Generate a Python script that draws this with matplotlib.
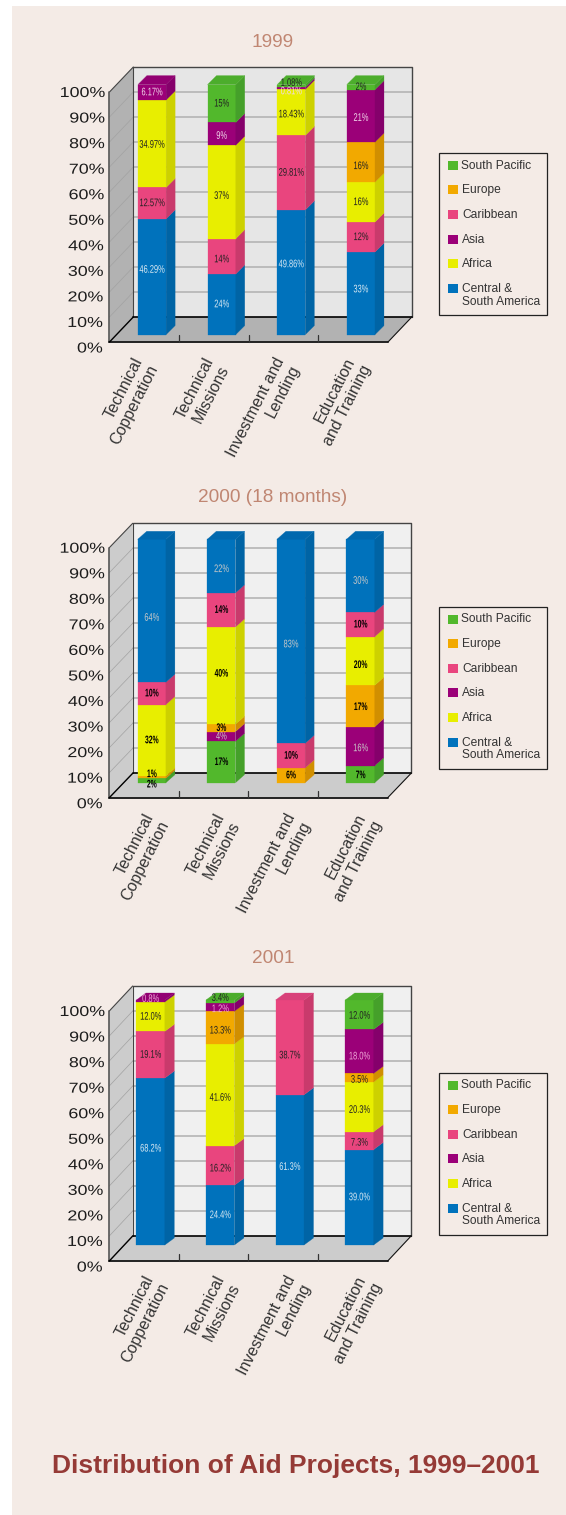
import matplotlib
matplotlib.use("Agg")
import matplotlib.pyplot as plt
from matplotlib.patches import Polygon, Rectangle
from matplotlib.patheffects import AbstractPathEffect
from matplotlib.transforms import Affine2D

# ---- data ----
categories = ["Technical\nCopperation", "Technical\nMissions", "Investment and\nLending", "Education\nand Training"]
y_ticks = [0, 10, 20, 30, 40, 50, 60, 70, 80, 90, 100]
legend_order = ["South Pacific", "Europe", "Caribbean", "Asia", "Africa", "Central &\nSouth America"]

central_1999 = [46.29, 24, 49.86, 33]
caribbean_1999 = [12.57, 14, 29.81, 12]
africa_1999 = [34.97, 37, 18.43, 16]
europe_1999 = [0, 0, 0, 16]
asia_1999 = [6.17, 9, 0.81, 21]
pacific_1999 = [0, 15, 1.08, 2]

pacific_2000 = [2, 17, 0, 7]
asia_2000 = [0, 4, 0, 16]
europe_2000 = [1, 3, 6, 17]
africa_2000 = [32, 40, 0, 20]
caribbean_2000 = [10, 14, 10, 10]
central_2000 = [64, 22, 83, 30]

central_2001 = [68.2, 24.4, 61.3, 39.0]
caribbean_2001 = [19.1, 16.2, 38.7, 7.3]
africa_2001 = [12.0, 41.6, 0, 20.3]
europe_2001 = [0, 13.3, 0, 3.5]
asia_2001 = [0.8, 3.4, 0, 18.0]
pacific_2001 = [0, 1.2, 0, 12.0]

# ---- styles ----
FRONT = {"C": "#0072bc", "Car": "#e9457e", "Af": "#e8ee00", "Eu": "#f2a900", "As": "#9b0078", "SP": "#52b82c"}
SIDE = {"C": "#0064a5", "Car": "#c93a6c", "Af": "#cdd100", "Eu": "#d18f00", "As": "#85006b", "SP": "#45a02a"}
TOP = {"C": "#0068ae", "Car": "#d8417a", "Af": "#dbe000", "Eu": "#e09c00", "As": "#920072", "SP": "#4cad2c"}
LEG_KEYS = ["SP", "Eu", "Car", "As", "Af", "C"]
BG = "#f4ebe6"
TXT = "#333333"
W, H = 566, 1515
DPI = 100
SANS = "Liberation Sans"


class XScale(AbstractPathEffect):
    """Stretch a text's glyphs horizontally about a fraction of its width."""

    def __init__(self, sx, anchor=0.5):
        super().__init__()
        self.sx, self.anchor = sx, anchor

    def draw_path(self, renderer, gc, tpath, affine, rgbFace=None):
        ext = tpath.get_extents()
        c = ext.x0 + self.anchor * (ext.x1 - ext.x0)
        a = Affine2D().translate(-c, 0).scale(self.sx, 1).translate(c, 0) + affine
        renderer.draw_path(gc, tpath, a, rgbFace)


def pt(px):
    return px * 72 / DPI


fig = plt.figure(figsize=(W / DPI, H / DPI), dpi=DPI, facecolor="white")
ov = fig.add_axes([0, 0, 1, 1], zorder=0)
ov.set_xlim(0, W)
ov.set_ylim(H, 0)
ov.axis("off")
ov.add_patch(Rectangle((12, 6), W - 12, H - 6, fc=BG, ec="none"))


def chart(title, title_y, stack, frame, bars, nudges, overrides, decimals, wall, side, bold, light, dark, leg_top, lab_right, lab_top):
    fl, fr, bl, br, top, back, floor = frame
    step = (fr - fl) / 4
    ppp = 2.5
    ax = fig.add_axes([fl / W, 1 - floor / H, (br - fl) / W, (floor - top) / H], zorder=1)
    DX = (bl - fl) / step
    DY = (floor - back) / ppp
    ax.set_xlim(0, (br - fl) / step)
    ax.set_ylim(0, (floor - top) / ppp)
    ax.axis("off")

    def poly(pts, fc, ec="none", lw=0, z=1):
        ax.add_patch(Polygon(pts, closed=True, fc=fc, ec=ec, lw=lw, zorder=z, clip_on=False))

    def line(xs, ys, c, lw, z=2):
        ax.plot(xs, ys, color=c, lw=lw, zorder=z, clip_on=False, solid_capstyle="round")

    # walls and floor
    poly([(DX, DY), (4 + DX, DY), (4 + DX, DY + 100), (DX, DY + 100)], wall)
    poly([(0, 0), (DX, DY), (DX, DY + 100), (0, 100)], side)
    poly([(0, 0), (4, 0), (4 + DX, DY), (DX, DY)], side)
    for v in y_ticks[1:-1] + [0]:
        if v:
            line([DX, 4 + DX], [DY + v, DY + v], "#b4b4b4", 1.2)
        line([0, DX], [v, DY + v], "#a2a2a2", 0.5)
    # frame
    line([DX, 4 + DX, 4 + DX], [DY + 100, DY + 100, DY], "#444444", 1.0, 3)
    line([0, DX], [100, DY + 100], "#444444", 0.8, 3)
    line([DX, DX], [DY, DY + 100], "#444444", 0.8, 3)
    line([0, 0], [0, 100], "#555555", 1.2, 3)
    line([DX, 4 + DX], [DY, DY], "#000000", 1.2, 3)
    line([0, 4], [0, 0], "#222222", 1.4, 3)
    line([0, DX], [0, DY], "#000000", 1.0, 3)
    line([4, 4 + DX], [0, DY], "#111111", 0.8, 3)
    for i in range(1, 4):
        line([i, i], [0, 7 / ppp], "#333333", 0.9, 3)

    # y labels
    for v in y_ticks:
        ax.annotate(f"{v}%", (0, v), xytext=(-4.5 - (100 - v) * 0.025, -1.0 - (100 - v) * 0.055), textcoords="offset pixels",
                    ha="right", va="center", fontsize=pt(14.4), color="#1c1c1c", family=SANS, clip_on=False,
                    path_effects=[XScale(1.24, 1.0)])

    # bars
    x_off, base, full, bw, ddx, ddy = bars
    for i in range(4):
        total = sum(vals[i] for _, vals in stack)
        y = base / ppp
        left = i + 0.5 + x_off / step - bw / step / 2
        right = left + bw / step
        dx, dy = ddx / step, ddy / ppp
        last = None
        for key, vals in stack:
            v = vals[i]
            if v <= 0:
                continue
            h = v / total * full / ppp
            poly([(left, y), (right, y), (right, y + h), (left, y + h)], FRONT[key], FRONT[key], 0.2, 5)
            poly([(right, y), (right + dx, y + dy), (right + dx, y + h + dy), (right, y + h)], SIDE[key], SIDE[key], 0.2, 5)
            text = overrides.get((i, key), f"{v:.{decimals}f}%" if decimals else f"{v:g}%")
            ny = nudges.get((i, key), 0)
            c = light[0] if key == "C" else light[1] if key == "As" else dark
            ax.annotate(text, ((left + right) / 2, y + h / 2), xytext=(0, ny), textcoords="offset pixels",
                        ha="center", va="center", fontsize=pt(11), color=c,
                        fontweight="bold" if (bold and key not in ("C", "As")) else "normal",
                        family=SANS, zorder=7, clip_on=False,
                        path_effects=[XScale(0.68 if not (bold and key not in ("C", "As")) else 0.62)])
            y += h
            last = key
        poly([(left, y), (right, y), (right + dx, y + dy), (left + dx, y + dy)], TOP[last], TOP[last], 0.2, 5)

    # category labels
    for i, c in enumerate(categories):
        ov.text(lab_right + i * 70.9, lab_top, c, rotation=63, ha="right", va="top", multialignment="right",
                fontsize=pt(16), color=TXT, family=SANS, linespacing=1.2, zorder=8)
    ov.text(273, title_y, title, ha="center", va="center", fontsize=pt(19), color="#c08672", family=SANS)

    # legend
    ov.add_patch(Rectangle((439, leg_top), 108.3, 162, fc=BG, ec="#222222", lw=0.9))
    for j, (k, name) in enumerate(zip(LEG_KEYS, legend_order)):
        cy = leg_top + 12 + j * 24.6
        ov.add_patch(Rectangle((448, cy - 4.5), 10, 9, fc=FRONT[k], ec="none"))
        ov.text(461 if j == 0 else 462, cy - 5.5 + (0 if j < 5 else 0.5), name, ha="left", va="top", fontsize=pt(12), color=TXT,
                family=SANS, linespacing=1.05)


s1999 = [("C", central_1999), ("Car", caribbean_1999), ("Af", africa_1999), ("Eu", europe_1999), ("As", asia_1999), ("SP", pacific_1999)]
s2000 = [("SP", pacific_2000), ("As", asia_2000), ("Eu", europe_2000), ("Af", africa_2000), ("Car", caribbean_2000), ("C", central_2000)]
s2001 = [("C", central_2001), ("Car", caribbean_2001), ("Af", africa_2001), ("Eu", europe_2001), ("As", asia_2001), ("SP", pacific_2001)]

nudge_1999 = {(2, "SP"): 3, (2, "As"): -3, (0, "C"): 7, (2, "C"): 8, (3, "C"): 4, (1, "Af"): -4, (1, "Car"): -3,
              (1, "As"): -2, (3, "As"): -2, (3, "Eu"): -4, (2, "Af"): -2, (0, "Af"): -1}
nudge_2000 = {(0, "SP"): -4, (0, "Eu"): 3, (0, "C"): -7, (1, "C"): -3, (2, "C"): -3, (3, "C"): -5, (1, "Af"): 2,
              (3, "Af"): -4, (3, "As"): -2, (3, "Eu"): -1, (3, "SP"): -1}
nudge_2001 = {(1, "SP"): 3.5, (1, "As"): -2, (0, "As"): 2, (0, "C"): 13, (2, "C"): 3, (2, "Car"): -8, (3, "As"): -5,
              (3, "Eu"): -2, (3, "Af"): -3, (3, "Car"): -2, (1, "Af"): -3, (1, "Car"): -3, (1, "Eu"): -3, (3, "SP"): -1}

chart("1999", 42.5, s1999, (109.5, 388, 133.3, 412, 67.7, 317, 342), (7.7, 7.4, 250, 28.2, 9, 9),
      nudge_1999, {}, 0, "#e6e6e6", "#b2b2b2", False, ("#d8e8f2", "#f0d8ea"), "#222222", 153.3, 161, 355)
chart("2000 (18 months)", 497.5, s2000, (109.3, 387.7, 132.7, 411.7, 524, 773.3, 797.7), (7.7, 15, 243.4, 28.2, 9, 8),
      nudge_2000, {}, 0, "#f0f0f0", "#cccccc", True, ("#c8c8c8", "#c8c8c8"), "#000000", 607, 172, 811)
chart("2001", 958.5, s2001, (109.3, 387.7, 132.7, 411.7, 986, 1236, 1261), (6.5, 16, 245, 28.4, 9.5, 7),
      nudge_2001, {(1, "SP"): "3.4%", (1, "As"): "1.2%"}, 1, "#f0f0f0", "#cccccc", False,
      ("#d8e8f2", "#f0a8d8"), "#222222", 1073, 172, 1273)

ov.text(296, 1466, "Distribution of Aid Projects, 1999\u20132001", ha="center", va="center", fontsize=pt(26.4),
        fontweight="bold", color="#953a36", family=SANS)

fig.savefig("out.png", dpi=DPI, facecolor="white")
